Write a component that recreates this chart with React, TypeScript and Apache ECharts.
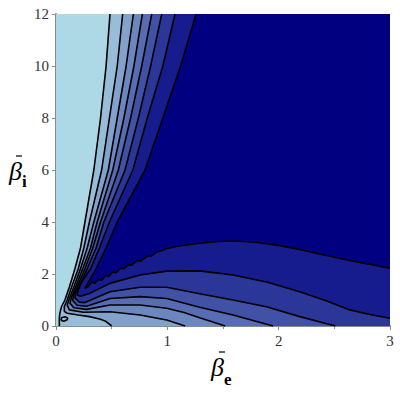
import { useEffect, useRef } from 'react';
import * as echarts from 'echarts';

// Axis setup
const xMin = 0, xMax = 3, xStep = 1;
const yMin = 0, yMax = 12, yStep = 2;

// Band colours, from lowest level (light blue) to highest (navy)
const bandColors = ['#ADD8E6', '#97BDD9', '#82A2CC', '#6C87C0', '#576CB3', '#4151A6', '#2B3699', '#161B8D', '#000080'];

// Heights at which the upper (steep) part of each contour line was read
const topY = [12, 10, 8, 6, 4, 3, 2.2];

// x-positions of each contour line at the heights in topY
const level1Top = [0.485, 0.45, 0.40, 0.34, 0.26, 0.22, 0.17];
const level2Top = [0.599, 0.55, 0.48, 0.41, 0.30, 0.25, 0.20];
const level3Top = [0.695, 0.63, 0.55, 0.47, 0.34, 0.28, 0.22];
const level4Top = [0.776, 0.70, 0.61, 0.51, 0.37, 0.31, 0.24];
const level5Top = [0.860, 0.77, 0.67, 0.56, 0.40, 0.33, 0.26];
const level6Top = [0.950, 0.85, 0.74, 0.62, 0.43, 0.36, 0.28];
const level7Top = [1.069, 0.96, 0.82, 0.69, 0.48, 0.39, 0.31];
const level8Top = [1.258, 1.12, 0.96, 0.80, 0.55, 0.45, 0.36];

// Lower part of each contour line [beta_e, beta_i]
const level1Tail = [[0.12, 1.5], [0.08, 1.0], [0.05, 0.75], [0.035, 0.5], [0.03, 0.3], [0.03, 0]];
const level2Tail = [[0.14, 1.5], [0.1, 1.0], [0.075, 0.75], [0.075, 0.56], [0.1, 0.49], [0.2, 0.42], [0.3, 0.36], [0.4, 0.26], [0.45, 0.17], [0.5, 0]];
const level3Tail = [[0.16, 1.5], [0.12, 1.05], [0.1, 0.8], [0.12, 0.62], [0.245, 0.53], [0.485, 0.55], [0.755, 0.42], [0.994, 0.23], [1.16, 0]];
const level4Tail = [[0.18, 1.55], [0.14, 1.1], [0.125, 0.88], [0.16, 0.7], [0.275, 0.64], [0.485, 0.81], [0.755, 0.81], [0.994, 0.68], [1.15, 0.52], [1.29, 0.32], [1.52, 0]];
const level5Tail = [[0.2, 1.6], [0.16, 1.2], [0.15, 0.98], [0.19, 0.8], [0.275, 0.76], [0.485, 1.06], [0.755, 1.13], [0.994, 1.06], [1.29, 0.72], [1.59, 0.42], [1.95, 0]];
const level6Tail = [[0.22, 1.65], [0.18, 1.3], [0.17, 1.08], [0.21, 0.92], [0.26, 0.9], [0.485, 1.32], [0.755, 1.49], [0.994, 1.49], [1.29, 1.24], [1.59, 1.0], [1.89, 0.74], [2.19, 0.36], [2.51, 0]];
const level7Tail = [[0.24, 1.75], [0.2, 1.4], [0.19, 1.2], [0.22, 1.14], [0.3, 1.25], [0.485, 1.64], [0.755, 1.96], [0.994, 2.11], [1.29, 2.12], [1.59, 1.96], [1.9, 1.68], [2.19, 1.32], [2.42, 0.98], [2.64, 0.62], [2.82, 0.44], [3.0, 0.30]];
const level8Tail = [[0.3, 1.75], [0.26, 1.45], [0.29, 1.52], [0.32, 1.68], [0.35, 1.64], [0.38, 1.80], [0.41, 1.76], [0.445, 1.94], [0.475, 1.91], [0.51, 2.08], [0.54, 2.05], [0.58, 2.22], [0.61, 2.20], [0.65, 2.36], [0.68, 2.34], [0.73, 2.52], [0.76, 2.50], [0.82, 2.68], [0.86, 2.70], [0.905, 2.84], [1.0, 2.98], [1.1, 3.08], [1.29, 3.18], [1.45, 3.25], [1.59, 3.27], [1.8, 3.22], [2.0, 3.1], [2.19, 2.94], [2.4, 2.74], [2.64, 2.52], [2.8, 2.39], [3.0, 2.22]];

// Small closed contour near the origin
const islandLoop = [[0.045, 0.22], [0.07, 0.18], [0.1, 0.24], [0.105, 0.31], [0.08, 0.36], [0.05, 0.32], [0.045, 0.22]];

const levelTops = [level1Top, level2Top, level3Top, level4Top, level5Top, level6Top, level7Top, level8Top];
const levelTails = [level1Tail, level2Tail, level3Tail, level4Tail, level5Tail, level6Tail, level7Tail, level8Tail];

function buildLine(top: number[], tail: number[][]): number[][] {
  return topY.map((y, i) => [top[i], y]).concat(tail);
}

function closeRegion(line: number[][]): number[][] {
  const pts = line.slice();
  const last = pts[pts.length - 1];
  if (last[1] <= yMin && last[0] < xMax) pts.push([xMax, yMin]);
  pts.push([xMax, yMax]);
  return pts;
}

function polygonSeries(pts: number[][], color: string, z: number) {
  return {
    type: 'custom',
    silent: true,
    z,
    clip: true,
    data: [[0, 0]],
    renderItem: (_params: any, api: any) => ({
      type: 'polygon',
      shape: { points: pts.map((p) => api.coord(p)) },
      style: { fill: color, stroke: color, lineWidth: 0.5 },
    }),
  };
}

function lineSeries(pts: number[][]) {
  return {
    type: 'line',
    silent: true,
    z: 30,
    data: pts,
    showSymbol: false,
    symbol: 'none',
    lineStyle: { color: '#000', width: 1.6 },
  };
}

export default function App() {
  const ref = useRef<HTMLDivElement>(null);
  useEffect(() => {
    if (!ref.current) return;
    const chart = echarts.init(ref.current, undefined, { renderer: 'svg' });
    const lines = levelTops.map((t, i) => buildLine(t, levelTails[i]));
    const series: any[] = [];
    series.push(polygonSeries([[xMin, yMin], [xMax, yMin], [xMax, yMax], [xMin, yMax]], bandColors[0], 1));
    lines.forEach((ln, i) => series.push(polygonSeries(closeRegion(ln), bandColors[i + 1], 2 + i)));
    lines.forEach((ln) => series.push(lineSeries(ln)));
    series.push(lineSeries(islandLoop));

    const serif = '"Liberation Serif", "Times New Roman", serif';
    chart.setOption({
      animation: false,
      grid: { left: 56, right: 10, top: 14, bottom: 74, containLabel: false, outerBoundsMode: 'none' },
      xAxis: {
        type: 'value', min: xMin, max: xMax, interval: xStep,
        axisLine: { show: true, lineStyle: { color: '#8a8a8a', width: 2 } },
        axisTick: { show: true, length: 4, lineStyle: { color: '#8a8a8a' } },
        minorTick: { show: true, splitNumber: 2, length: 3, lineStyle: { color: '#8a8a8a' } },
        splitLine: { show: false },
        axisLabel: { color: '#333', fontFamily: serif, fontSize: 15, margin: 7 },
      },
      yAxis: {
        type: 'value', min: yMin, max: yMax, interval: yStep,
        axisLine: { show: true, lineStyle: { color: '#8a8a8a', width: 2 } },
        axisTick: { show: true, length: 4, lineStyle: { color: '#8a8a8a' } },
        splitLine: { show: false },
        axisLabel: { color: '#333', fontFamily: serif, fontSize: 15, margin: 7 },
      },
      graphic: [
        { type: 'text', left: 211, top: 354, style: { text: 'β', font: 'italic 26px ' + serif, fill: '#000' } },
        { type: 'text', left: 224, top: 371, style: { text: 'e', font: 'bold 17px ' + serif, fill: '#000' } },
        { type: 'line', shape: { x1: 219, y1: 352, x2: 225, y2: 352 }, style: { stroke: '#000', lineWidth: 1.2 } },
        { type: 'text', left: 9, top: 158, style: { text: 'β', font: 'italic 26px ' + serif, fill: '#000' } },
        { type: 'text', left: 22, top: 173, style: { text: 'i', font: 'bold 17px ' + serif, fill: '#000' } },
        { type: 'line', shape: { x1: 16, y1: 156, x2: 22, y2: 156 }, style: { stroke: '#000', lineWidth: 1.2 } },
      ],
      series,
    });
    return () => chart.dispose();
  }, []);
  return <div ref={ref} style={{ position: 'absolute', left: 0, top: 0, width: 400, height: 400 }} />;
}
